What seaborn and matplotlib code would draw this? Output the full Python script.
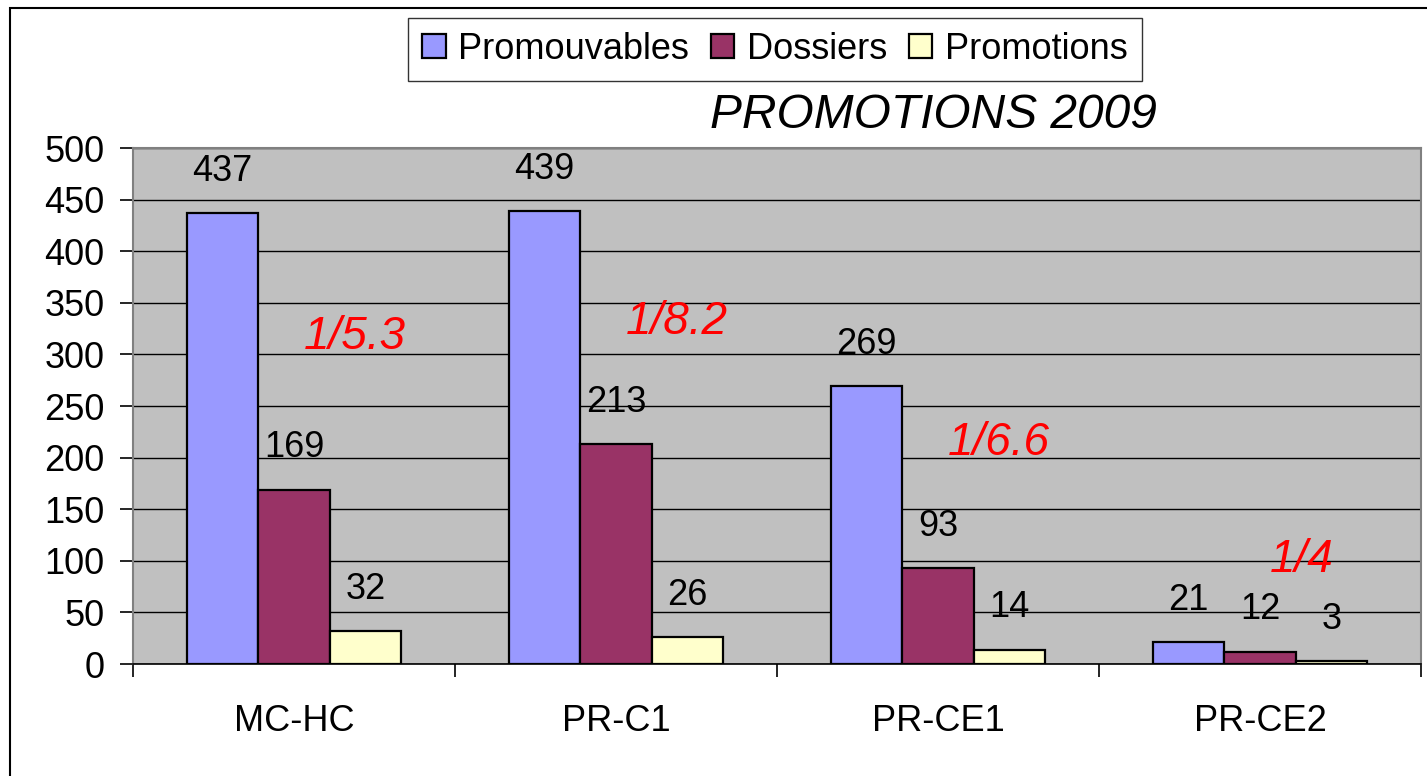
import matplotlib
matplotlib.use("Agg")
import matplotlib.pyplot as plt
import matplotlib.patches as mpatches
import seaborn as sns
import pandas as pd

categories = ["MC-HC", "PR-C1", "PR-CE1", "PR-CE2"]
series = ["Promouvables", "Dossiers", "Promotions"]
promouvables = [437, 439, 269, 21]
dossiers = [169, 213, 93, 12]
promotions = [32, 26, 14, 3]
ratios = ["1/5.3", "1/8.2", "1/6.6", "1/4"]
yticks = [0, 50, 100, 150, 200, 250, 300, 350, 400, 450, 500]
title = "PROMOTIONS 2009"

colors = ["#9999FF", "#993366", "#FFFFCC"]

sns.set_style("white")
plt.rcParams["font.family"] = ["Liberation Sans", "DejaVu Sans"]
plt.rcParams["text.color"] = "black"
plt.rcParams["xtick.color"] = "black"
plt.rcParams["ytick.color"] = "black"

rows = []
for s, vals in zip(series, [promouvables, dossiers, promotions]):
    for c, v in zip(categories, vals):
        rows.append({"cat": c, "series": s, "val": v})
df = pd.DataFrame(rows)

fig = plt.figure(figsize=(14.27, 7.76), dpi=100)
ax = fig.add_axes([133/1427, 1-664/776, (1421-133)/1427, (664-148)/776])
ax.set_facecolor("#C0C0C0")

sns.barplot(data=df, x="cat", y="val", hue="series", hue_order=series,
            palette=colors, width=0.665, gap=0, edgecolor="black",
            linewidth=1.6, saturation=1, ax=ax, legend=True, errorbar=None)

# data labels
for cont, vals in zip(ax.containers, [promouvables, dossiers, promotions]):
    for bar, v in zip(cont, vals):
        ax.annotate(str(v), (bar.get_x() + bar.get_width()/2, bar.get_height()),
                    xytext=(0, 30), textcoords="offset points",
                    ha="center", va="center", fontsize=26, color="black")

# ratio labels
ratio_pos = [(0.19, 317), (0.19, 331), (0.19, 214), (0.13, 101)]
for i, (r, (dx, y)) in enumerate(zip(ratios, ratio_pos)):
    ax.text(i + dx, y, r, color="#FF0000", fontsize=33, style="italic",
            ha="center", va="center")

ax.set_xlim(-0.5, 3.5)
ax.set_ylim(0, 500)
ax.set_yticks(yticks)
ax.set_yticklabels([str(t) for t in yticks], fontsize=26)
ax.yaxis.grid(True, color="black", linewidth=1.0)
ax.set_axisbelow(True)
ax.tick_params(axis="y", direction="out", length=9.4, width=1.2, color="black",
               pad=11, left=True, labelcolor="black")
ax.set_xticks(range(len(categories)))
ax.set_xticklabels(categories, fontsize=26)
ax.tick_params(axis="x", which="major", length=0, pad=29, labelcolor="black")
ax.set_xticks([-0.5, 0.5, 1.5, 2.5, 3.5], minor=True)
ax.tick_params(axis="x", which="minor", direction="out", length=9, width=1.2, color="black", bottom=True)
ax.set_xlabel("")
ax.set_ylabel("")
for side in ["left", "right", "top"]:
    ax.spines[side].set_color("#808080")
    ax.spines[side].set_linewidth(1.5)
    ax.spines[side].set_visible(True)
ax.spines["bottom"].set_color("black")
ax.spines["bottom"].set_linewidth(1.2)

handles, labels = ax.get_legend_handles_labels()
ax.get_legend().remove()
for h in handles:
    h.set_edgecolor("black")
    h.set_linewidth(1.6)
leg = fig.legend(handles, labels, loc="center", bbox_to_anchor=(775/1427, 1-49.5/776),
                 ncol=3, fontsize=26, frameon=True, fancybox=False,
                 handlelength=0.65, handleheight=0.65, handletextpad=0.35,
                 columnspacing=0.6, borderpad=0.4, edgecolor="black")
leg.get_frame().set_linewidth(1.0)

fig.text(933/1427, 1-115/776, title, fontsize=34.5, style="italic",
         ha="center", va="center", color="black")

# outer frame
fig.patches.append(mpatches.Rectangle((10/1427, -0.1), 1.2, 1.1 - 8/776,
                                      transform=fig.transFigure, fill=False,
                                      edgecolor="black", linewidth=1.5))

fig.savefig("out.png", dpi=100)
